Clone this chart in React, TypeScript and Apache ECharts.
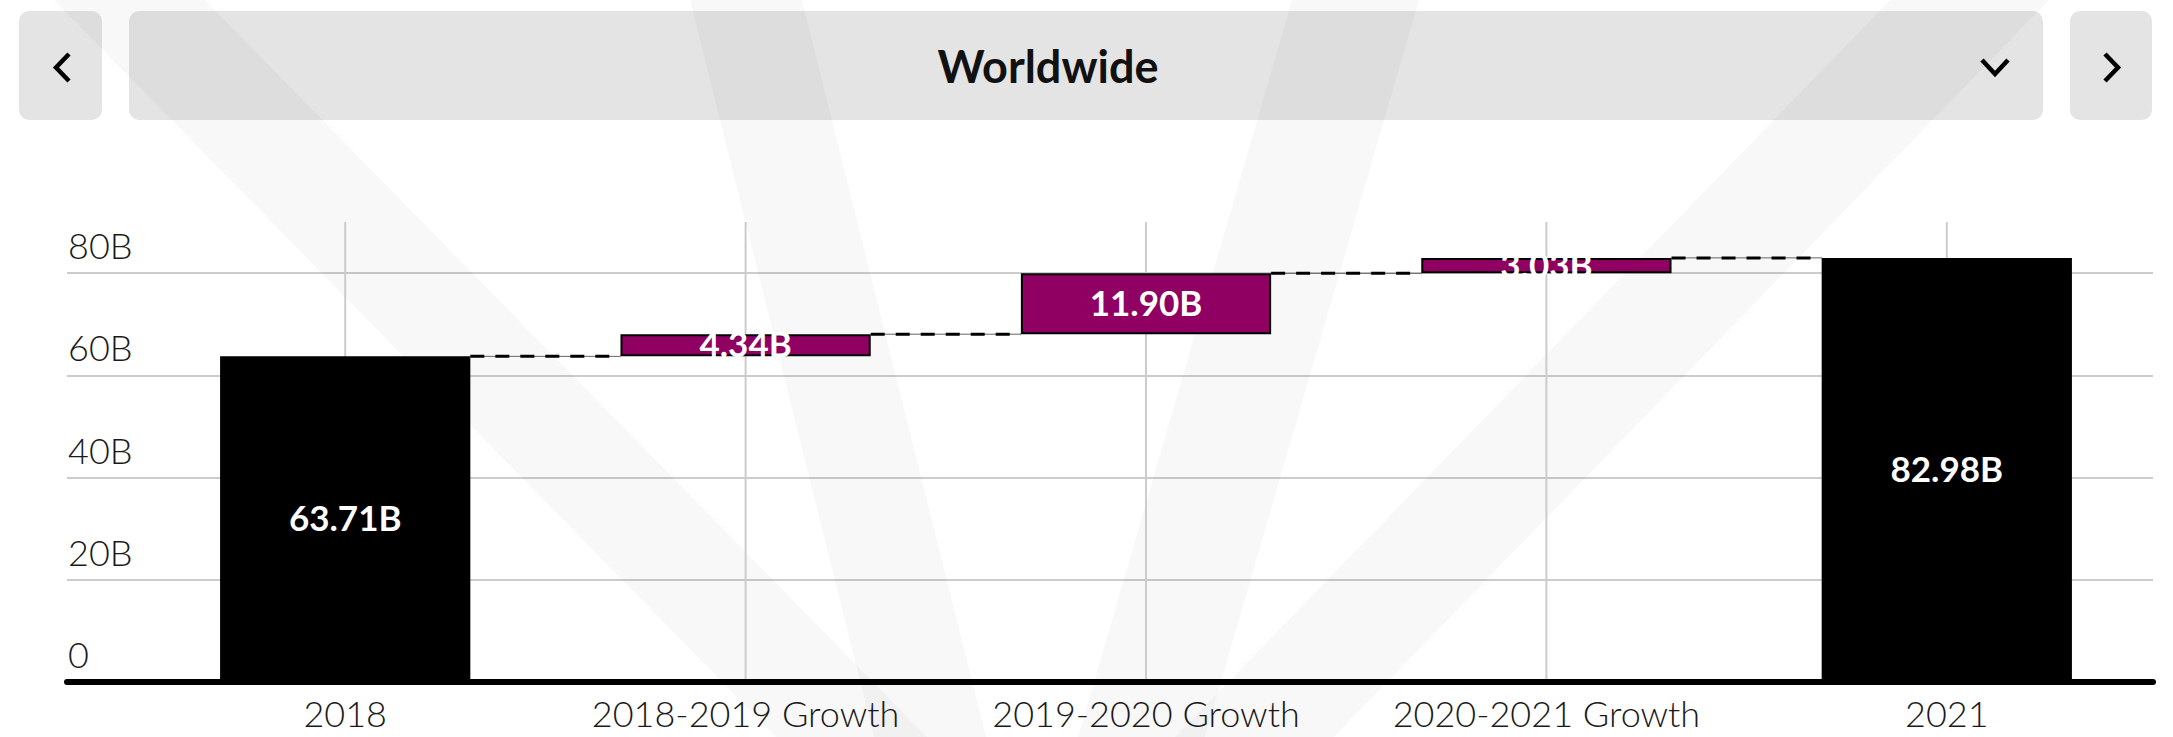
import React, { useEffect, useRef } from 'react';
import * as echarts from 'echarts';

const title = 'Worldwide';
const categories = ['2018', '2018-2019 Growth', '2019-2020 Growth', '2020-2021 Growth', '2021'];
const barValues = [63.71, 4.34, 11.9, 3.03, 82.98];
const isTotal = [true, false, false, false, true];
const yTicks = [0, 20, 40, 60, 80];

const FONT = 'Lato, "Open Sans", sans-serif';
const PURPLE = '#8f0062';
const BAR_RATIO = 0.625;

export default function App() {
  const ref = useRef<HTMLDivElement>(null);

  useEffect(() => {
    if (!ref.current) return;
    const chart = echarts.init(ref.current, null, { renderer: 'svg' });

    const bases: number[] = [];
    const tops: number[] = [];
    let running = 0;
    barValues.forEach((v, i) => {
      if (isTotal[i]) {
        bases.push(0);
        running = v;
      } else {
        bases.push(running);
        running += v;
      }
      tops.push(running);
    });
    const connectorData = tops.slice(0, tops.length - 1).map((t, i) => [i, t]);
    const vlineData = categories.map((_, i) => [i, 90]);

    const wm = 'rgba(0,0,0,0.028)';
    const bands = [
      [[54, 0], [205, 0], [927, 737], [776, 737]],
      [[690, 0], [802, 0], [986, 737], [874, 737]],
      [[1292, 0], [1419, 0], [1205, 737], [1078, 737]],
      [[1890, 0], [2049, 0], [1334, 737], [1175, 737]],
    ];

    const graphicEls: any[] = [
      { type: 'rect', z: 0, shape: { x: 19, y: 11, width: 83, height: 109, r: 10 }, style: { fill: '#e4e4e4' } },
      { type: 'rect', z: 0, shape: { x: 129, y: 11, width: 1914, height: 109, r: 10 }, style: { fill: '#e4e4e4' } },
      { type: 'rect', z: 0, shape: { x: 2070, y: 11, width: 82, height: 109, r: 10 }, style: { fill: '#e4e4e4' } },
      ...bands.map((pts) => ({ type: 'polygon', z: 1, silent: true, shape: { points: pts }, style: { fill: wm } })),
      { type: 'polyline', z: 3, shape: { points: [[69, 54], [56, 67.5], [69, 81]] }, style: { stroke: '#000', lineWidth: 4.5, fill: null } },
      { type: 'polyline', z: 3, shape: { points: [[2105, 54], [2118, 67.5], [2105, 81]] }, style: { stroke: '#000', lineWidth: 4.5, fill: null } },
      { type: 'polyline', z: 3, shape: { points: [[1982, 60], [1995, 74], [2008, 60]] }, style: { stroke: '#000', lineWidth: 4.5, fill: null } },
      {
        type: 'text', z: 3, x: 1048, y: 66,
        style: { text: title, fill: '#111', font: `bold 45px ${FONT}`, align: 'center', verticalAlign: 'middle' },
      },
    ];

    const option: any = {
      animation: false,
      backgroundColor: '#ffffff',
      textStyle: { fontFamily: FONT },
      graphic: { elements: graphicEls },
      grid: [
        { left: 67, right: 20, top: 273, bottom: 55 },
        { left: 145, right: 26, top: 222, bottom: 55 },
      ],
      xAxis: [
        {
          gridIndex: 0, type: 'value', min: 0, max: 1, z: 4,
          axisLine: { show: true, onZero: false, lineStyle: { color: '#000', width: 6 } },
          axisTick: { show: false }, axisLabel: { show: false }, splitLine: { show: false },
        },
        {
          gridIndex: 1, type: 'category', data: categories,
          axisLine: { show: false }, axisTick: { show: false }, splitLine: { show: false },
          axisLabel: { color: '#1a1a1a', fontSize: 36, fontFamily: FONT, fontWeight: 300, margin: 13 },
        },
      ],
      yAxis: [
        {
          gridIndex: 0, type: 'value', min: yTicks[0], max: yTicks[yTicks.length - 1], interval: yTicks[1] - yTicks[0],
          axisLine: { show: false }, axisTick: { show: false },
          axisLabel: {
            inside: true, margin: 1, verticalAlign: 'bottom', lineHeight: 36, padding: [0, 0, 10, 0],
            color: '#1a1a1a', fontSize: 36, fontFamily: FONT, fontWeight: 300,
            formatter: (v: number) => (v === 0 ? '0' : `${v}B`),
          },
          splitLine: { show: true, lineStyle: { color: '#cccccc', width: 2 } },
        },
        { gridIndex: 1, type: 'value', min: 0, max: 90, show: false },
      ],
      series: [
        {
          type: 'custom', xAxisIndex: 1, yAxisIndex: 1, z: 1, silent: true,
          data: vlineData,
          renderItem: (_p: any, api: any) => {
            const top = api.coord([api.value(0), api.value(1)]);
            const bottom = api.coord([api.value(0), 0]);
            return {
              type: 'line',
              shape: { x1: top[0], y1: top[1], x2: bottom[0], y2: bottom[1] },
              style: { stroke: '#cccccc', lineWidth: 2 },
            };
          },
        },
        {
          type: 'bar', xAxisIndex: 1, yAxisIndex: 1, stack: 'w', z: 2, silent: true,
          barWidth: `${BAR_RATIO * 100}%`,
          itemStyle: { color: 'rgba(0,0,0,0)' },
          data: bases,
        },
        {
          type: 'bar', xAxisIndex: 1, yAxisIndex: 1, stack: 'w', z: 2,
          barWidth: `${BAR_RATIO * 100}%`,
          data: barValues.map((v, i) => ({
            value: v,
            itemStyle: isTotal[i]
              ? { color: '#000000', borderWidth: 0 }
              : { color: PURPLE, borderColor: '#000000', borderWidth: 2 },
          })),
          label: {
            show: true, position: 'inside', color: '#ffffff', fontSize: 35, fontWeight: 'bold', fontFamily: FONT,
            offset: [0, -2],
            formatter: (p: any) => `${Number(p.value).toFixed(2)}B`,
          },
        },
        {
          type: 'custom', xAxisIndex: 1, yAxisIndex: 1, z: 3, silent: true,
          data: connectorData,
          renderItem: (_p: any, api: any) => {
            const i = api.value(0);
            const level = api.value(1);
            const a = api.coord([i, level]);
            const b = api.coord([i + 1, level]);
            const half = (api.size([1, 0])[0] * BAR_RATIO) / 2;
            const x1 = a[0] + half;
            const x2 = b[0] - half;
            const y = a[1];
            return {
              type: 'group',
              children: [
                { type: 'line', shape: { x1, y1: y, x2, y2: y }, style: { stroke: '#666', lineWidth: 1 } },
                { type: 'line', shape: { x1, y1: y, x2, y2: y }, style: { stroke: '#000', lineWidth: 3, lineDash: [14, 11] } },
              ],
            };
          },
        },
      ],
    };

    chart.setOption(option);
    return () => chart.dispose();
  }, []);

  return (
    <div
      ref={ref}
      style={{ position: 'absolute', left: 0, top: 0, width: '2173px', height: '737px' }}
    />
  );
}
